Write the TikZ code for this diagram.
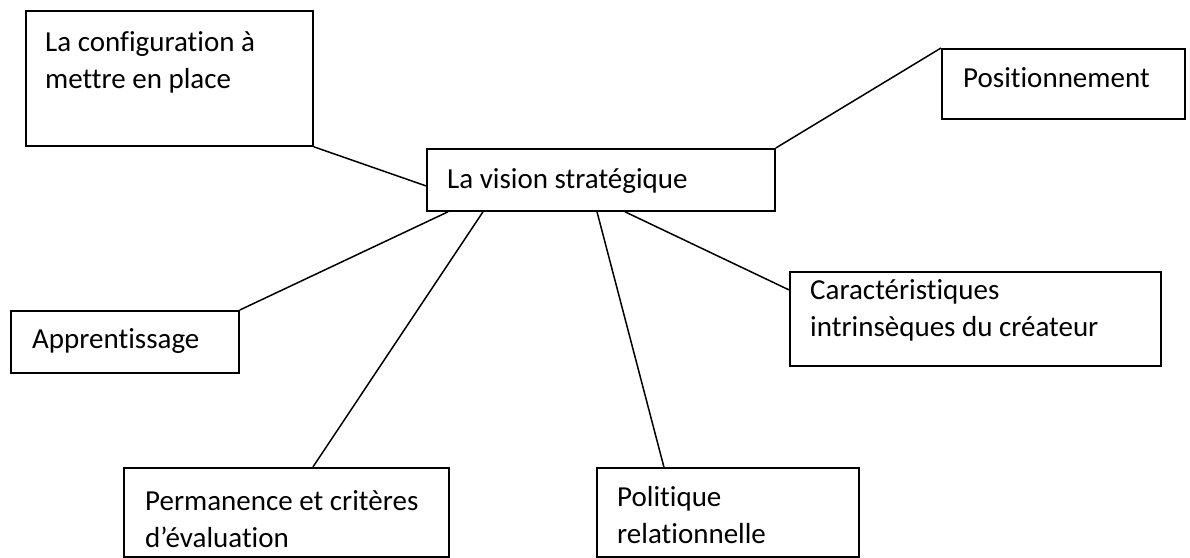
\documentclass[tikz,border=0pt]{standalone}
\usepackage{fontspec}
\setmainfont{Carlito}[Ligatures=NoCommon]
\usetikzlibrary{calc}
\begin{document}
\begin{tikzpicture}[x=1pt,y=-1pt,
  box/.style={draw, line width=1.8pt, inner sep=0pt, anchor=north west},
  lbl/.style={anchor=base west, inner sep=0pt, align=left, font=\fontsize{29}{37}\selectfont},
  link/.style={line width=1.5pt}]
\useasboundingbox (0,0) rectangle (1190,557);
% boxes
\node[box, minimum width=287pt, minimum height=135pt] (cfg) at (25,10) {};
\node[box, minimum width=243pt, minimum height=70pt] (pos) at (941,48) {};
\node[box, minimum width=348pt, minimum height=62pt] (ctr) at (426,148) {};
\node[box, minimum width=228pt, minimum height=62pt] (app) at (10,310) {};
\node[box, minimum width=371pt, minimum height=94pt] (car) at (789,271) {};
\node[box, minimum width=325pt, minimum height=89pt] (per) at (123,467) {};
\node[box, minimum width=262pt, minimum height=89pt] (pol) at (596,467) {};
% texts (base anchor = last line's baseline)
\node[lbl] (tcfg) at (45,88) {La configuration à\\mettre en place};
\node[lbl] (tpos) at (963,87) {Positionnement};
\node[lbl] (tctr) at (447,188) {La vision stratégique};
\node[lbl] (tapp) at (32,348) {Apprentissage};
\node[lbl] (tcar) at (810,336) {Caractéristiques\\intrinsèques du créateur};
\node[lbl] (tper) at (145,547) {Permanence et critères\\d’évaluation};
\node[lbl] (tpol) at (617,543) {Politique\\relationnelle};
% connectors
\draw[link] (cfg.south east) -- ([yshift=-6pt]ctr.west);
\draw[link] (ctr.north east) -- (pos.north west);
\draw[link] ([xshift=22pt]ctr.south west) -- (app.north east);
\draw[link] ([xshift=57pt]ctr.south west) -- ([xshift=26.5pt]per.north);
\draw[link] ([xshift=171pt]ctr.south west) -- ([xshift=-64pt]pol.north);
\draw[link] ([xshift=199pt]ctr.south west) -- ([yshift=29pt]car.west);
\end{tikzpicture}
\end{document}
